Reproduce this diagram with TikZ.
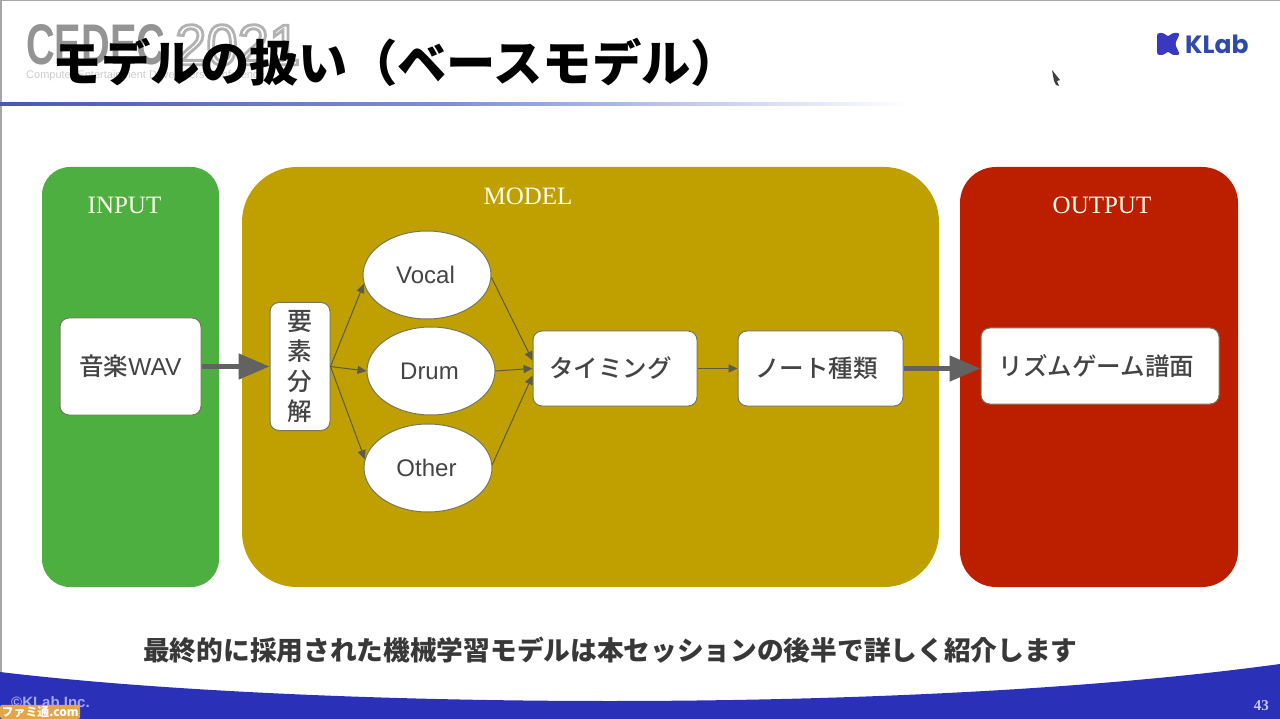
\documentclass[tikz,border=0pt]{standalone}
\usepackage{fontspec}
\usepackage{graphicx}
\setmainfont{Liberation Sans}
\newfontfamily\cjk{Noto Sans CJK JP}
\newfontfamily\cjkmed{Noto Sans CJK JP Medium}
\newfontfamily\serifl{Liberation Serif}
\newfontfamily\popp{Poppins}
\usetikzlibrary{arrows.meta,shapes.geometric}
\newcommand{\fs}[1]{\fontsize{#1}{#1}\selectfont}
\definecolor{inputgreen}{HTML}{4CAF40}
\definecolor{modelgold}{HTML}{BFA000}
\definecolor{outputred}{HTML}{BC1E00}
\definecolor{bandblue}{HTML}{2A30B8}
\definecolor{inktext}{HTML}{444444}
\definecolor{edgegrey}{HTML}{77775C}
\definecolor{arrowgrey}{HTML}{5A5A50}
\definecolor{thickgrey}{HTML}{626262}
\definecolor{ruleblue}{HTML}{4A58B0}
\definecolor{rulemid}{HTML}{8090DC}
\definecolor{logotext}{HTML}{2F4AA8}
\definecolor{logoicon}{HTML}{3838C0}
\definecolor{famitsu}{HTML}{E2A548}
\tikzset{
  panel/.style={draw=none,inner sep=0pt},
  panellabel/.style={text=white!92!yellow,font=\serifl\fs{25}},
  whitebox/.style={draw=edgegrey,line width=1pt,fill=white,rounded corners=9pt,inner sep=0pt,text=inktext,font=\cjkmed\fs{24.5}},
  oval/.style={ellipse,draw=edgegrey,line width=1pt,fill=white,inner sep=0pt,minimum width=128pt,minimum height=88pt,text=inktext,font=\fs{24}},
  thinarrow/.style={draw=arrowgrey,line width=1pt,-{Triangle[length=9pt,width=8pt]}},
  thickarrow/.style={draw=thickgrey,line width=5pt,-{Triangle[length=31pt,width=25pt]}},
}
\begin{document}
\begin{tikzpicture}[x=1pt,y=-1pt]
\useasboundingbox (0,0) rectangle (1280,719);
\fill[white] (0,0) rectangle (1280,719);
\fill[black!35] (0,0) rectangle (1280,1.5);
\fill[black!35] (0,0) rectangle (1.5,719);
% CEDEC watermark
\node[anchor=west,inner sep=0pt,text=black!42] (cedec) at (26,45) {\resizebox{139pt}{40pt}{\bfseries CEDEC}};
\node[anchor=west,inner sep=0pt,text=black!30] (year) at (175,45) {\resizebox{125pt}{40pt}{\special{pdf:code 1 Tr 0.5 w}2021\special{pdf:code 0 Tr}}};
\node[anchor=west,inner sep=0pt,text=black!20,font=\fs{11}] (cedecsub) at (26,76) {Computer Entertainment Developers Conference};
% title
\node[anchor=west,inner sep=0pt,text=black,font=\cjk\bfseries\fs{49.3}] (title) at (52,62) {モデルの扱い（ベースモデル）};
% rule
\shade[left color=ruleblue,right color=white,middle color=rulemid] (0,102.5) rectangle (910,106);
% KLab logo
\fill[logoicon,rounded corners=2.5pt] (1157,33) -- (1164,33) -- (1168,37) -- (1172,33) -- (1180,33) -- (1175,44) -- (1180,55) -- (1172,55) -- (1168,51) -- (1164,55) -- (1157,55) -- cycle;
\node[anchor=west,inner sep=0pt,text=logotext,font=\popp\bfseries\fs{25}] (klab) at (1185,44) {KLab};
% cursor
\fill[black!75] (1052,70) -- (1060,80) -- (1057,81) -- (1059,86) -- (1056,85) -- (1054,81) -- cycle;
% panels
\node[panel,fill=inputgreen,rounded corners=28pt,minimum width=177pt,minimum height=420pt] (input) at (130.5,377) {};
\node[panel,fill=modelgold,rounded corners=55pt,minimum width=697pt,minimum height=420pt] (model) at (590.5,377) {};
\node[panel,fill=outputred,rounded corners=36pt,minimum width=278pt,minimum height=420pt] (output) at (1099,377) {};
\node[panellabel] (inputlabel) at (124.5,205) {INPUT};
\node[panellabel] (modellabel) at (528,196) {MODEL};
\node[panellabel] (outputlabel) at (1102,205) {OUTPUT};
% boxes
\node[whitebox,minimum width=141pt,minimum height=97pt] (wav) at (130.5,366.5) {音楽\fontspec{Liberation Sans}WAV};
\node[whitebox,minimum width=60pt,minimum height=128pt,align=center] (decomp) at (300,366.5) {\fontsize{25}{25}\selectfont 要\\[5.5pt]素\\[5.5pt]分\\[5.5pt]解};
\node[oval] (vocal) at (427,275) {Vocal\hspace*{3pt}};
\node[oval] (drum) at (431,371) {Drum\hspace*{3pt}};
\node[oval] (other) at (428,468) {Other\hspace*{3pt}};
\node[whitebox,minimum width=164pt,minimum height=75pt] (timing) at (615,368.5) {タイミング\hspace*{9pt}};
\node[whitebox,minimum width=165pt,minimum height=75pt] (notekind) at (820.5,368.5) {ノート種類\hspace*{8pt}};
\node[whitebox,minimum width=238pt,minimum height=76pt] (chart) at (1100,366) {リズムゲーム譜面\hspace*{7pt}};
% connectors
\draw[thickarrow] (wav.east) -- (decomp.west);
\draw[thickarrow] (notekind.east) -- ([yshift=-2.5pt]chart.west);
\draw[thinarrow] (decomp.east) -- (vocal.188);
\draw[thinarrow] (decomp.east) -- (drum.west);
\draw[thinarrow] (decomp.east) -- (other.172);
\draw[thinarrow] (vocal.-2) -- ([yshift=8pt]timing.west);
\draw[thinarrow] (drum.east) -- (timing.west);
\draw[thinarrow] (other.3) -- ([yshift=-7pt]timing.west);
\draw[thinarrow] (timing.east) -- (notekind.west);
% caption
\node[anchor=west,inner sep=0pt,text=black!78,font=\cjk\bfseries\fs{26.7}] (caption) at (143,650) {最終的に採用された機械学習モデルは本セッションの後半で詳しく紹介します};
% footer band
\fill[bandblue] (0,672) .. controls (300,708) and (900,716) .. (1280,664) -- (1280,719) -- (0,719) -- cycle;
\node[anchor=west,inner sep=0pt,text=blue!35!white,font=\bfseries\fs{15}] (copyright) at (11,702) {©KLab Inc.};
\node[anchor=east,inner sep=0pt,text=blue!22!white,font=\serifl\bfseries\fs{15}] (page) at (1269,706) {43};
% site mark
\node[anchor=south west,inner sep=0pt,minimum width=80pt,minimum height=14pt,fill=famitsu,rounded corners=2pt,text=white,font=\cjk\bfseries\fs{13}] (famitsulogo) at (0,719) {\resizebox{77pt}{!}{ファミ通.com}};
\end{tikzpicture}
\end{document}
